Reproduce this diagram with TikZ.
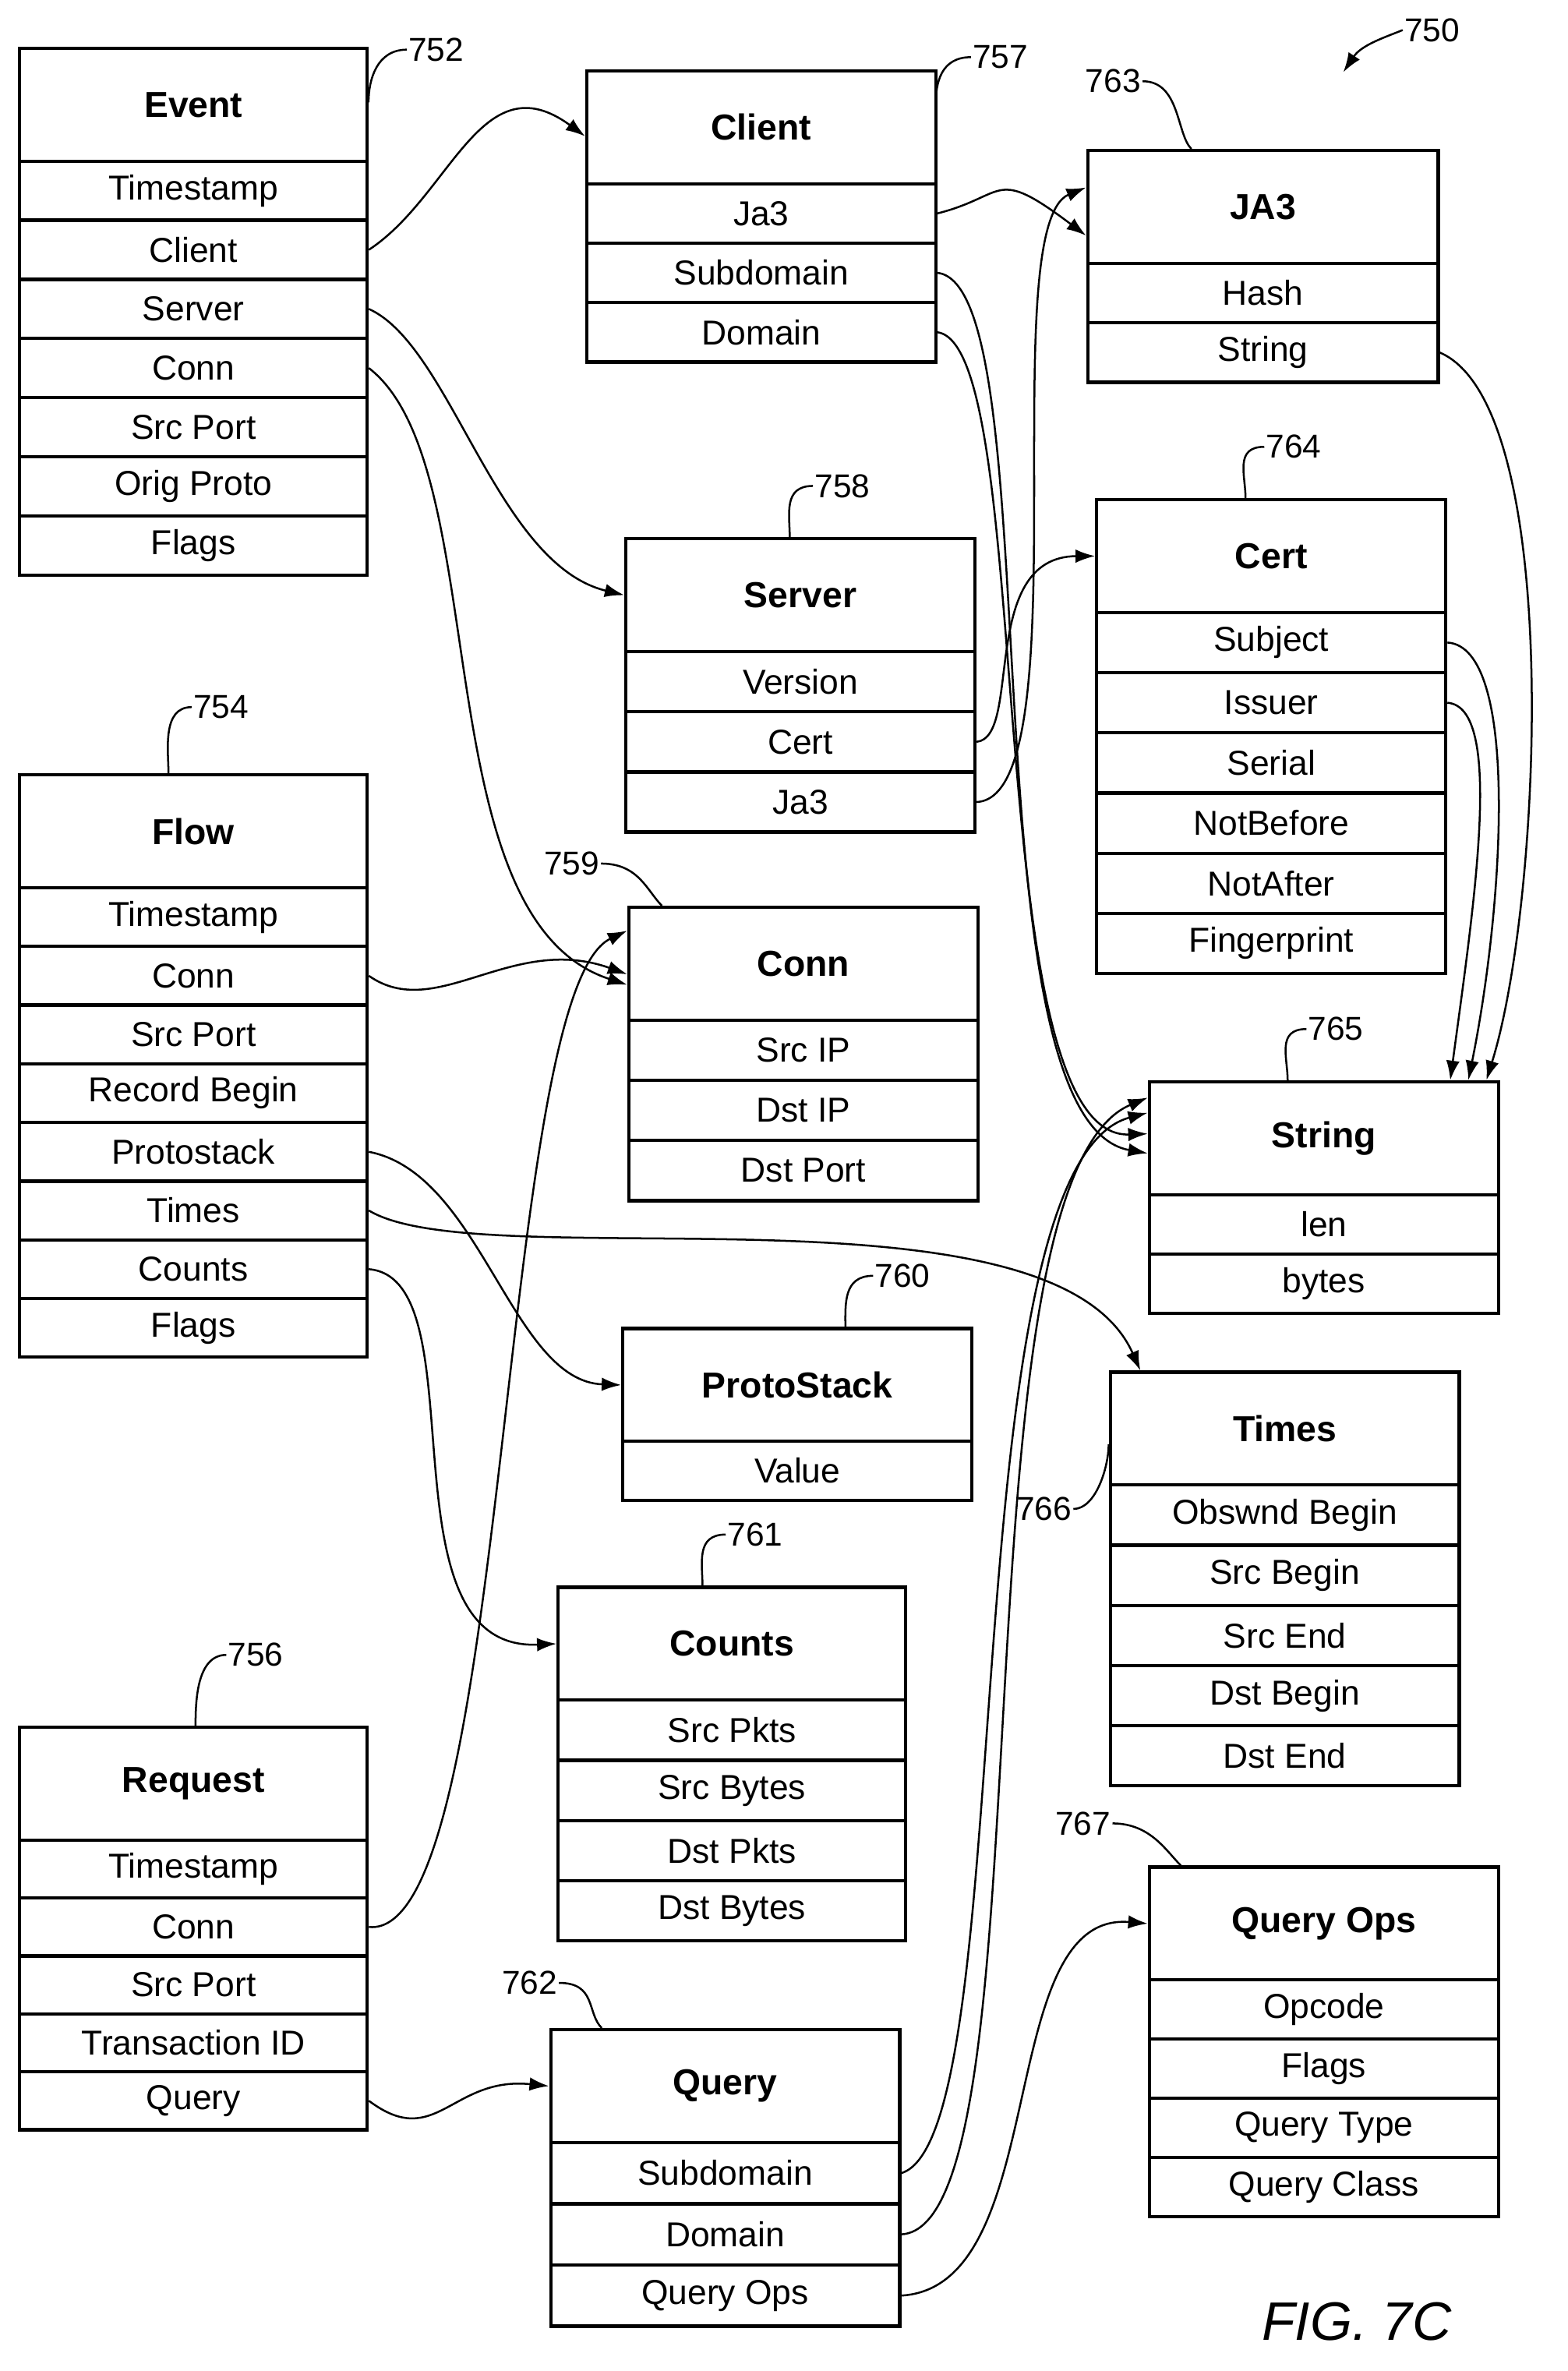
\documentclass[tikz,border=0pt]{standalone}
\usepackage{fontspec}
\setmainfont{Liberation Sans}
\usetikzlibrary{arrows.meta}
\begin{document}
\begin{tikzpicture}[x=1pt,y=-1pt,
  box/.style={draw,line width=2.2pt,inner sep=0pt,anchor=north west},
  hdr/.style={box,font=\fontsize{24}{28}\selectfont\bfseries},
  row/.style={box,font=\fontsize{23}{27}\selectfont},
  lnk/.style={line width=1.3pt,-{Latex[length=13pt,width=9pt]}},
  lead/.style={line width=1.3pt},
  lab/.style={font=\fontsize{22}{26}\selectfont,inner sep=1pt}]
\useasboundingbox (0,0) rectangle (1042,1576);
\newcommand\tbl[7]{%
 \node[hdr,minimum width=#3pt,minimum height=75pt] (#1) at (#2,#4) {#6};
 \foreach \t [count=\i] in {#7} {
  \node[row,minimum width=#3pt,minimum height=#5pt] (#1-\i) at (#2,{#4+75+(\i-1)*#5}) {\t};}}
\tbl{ev}{12}{231}{31}{39.3}{Event}{Timestamp,Client,Server,Conn,Src Port,Orig Proto,Flags}
\tbl{cl}{389}{232}{46}{39.5}{Client}{Ja3,Subdomain,Domain}
\tbl{ja}{722}{233}{99}{39.5}{JA3}{Hash,String}
\tbl{sv}{415}{232}{357}{40}{Server}{Version,Cert,Ja3}
\tbl{ce}{728}{232}{331}{40}{Cert}{Subject,Issuer,Serial,NotBefore,NotAfter,Fingerprint}
\tbl{fl}{12}{231}{514}{39}{Flow}{Timestamp,Conn,Src Port,Record Begin,Protostack,Times,Counts,Flags}
\tbl{co}{417}{232}{602}{40}{Conn}{Src IP,Dst IP,Dst Port}
\tbl{st}{763}{232}{718}{39.5}{String}{len,bytes}
\tbl{ps}{413}{232}{882}{39}{ProtoStack}{Value}
\tbl{ti}{737}{232}{911}{40}{Times}{Obswnd Begin,Src Begin,Src End,Dst Begin,Dst End}
\tbl{cn}{370}{231}{1054}{40}{Counts}{Src Pkts,Src Bytes,Dst Pkts,Dst Bytes}
\tbl{rq}{12}{231}{1147}{38.5}{Request}{Timestamp,Conn,Src Port,Transaction ID,Query}
\tbl{qu}{365}{232}{1348}{40.7}{Query}{Subdomain,Domain,Query Ops}
\tbl{qo}{763}{232}{1240}{39.3}{Query Ops}{Opcode,Flags,Query Type,Query Class}
% connectors
\draw[lnk] (ev-2.east) .. controls (300,130) and (320,40) .. ([yshift=-6pt]cl.west);
\draw[lnk] (ev-3.east) .. controls (300,230) and (330,375) .. (sv.west);
\draw[lnk] (ev-4.east) .. controls (330,310) and (280,610) .. ([yshift=-14pt]co.west);
\draw[lnk] (cl-1.east) .. controls (670,130) and (660,110) .. ([yshift=-19pt]ja.west);
\draw[lnk] (cl-2.east) .. controls (700,190) and (640,745) .. ([yshift=-10pt]st.west);
\draw[lnk] (cl-3.east) .. controls (690,230) and (650,758) .. ([yshift=3pt]st.west);
\draw[lnk] (sv-2.east) .. controls (680,490) and (650,370) .. (ce.west);
\draw[lnk] (sv-3.east) .. controls (720,530) and (660,150) .. ([yshift=13pt]ja.west);
\draw[lnk] (ja-2.east) .. controls (1040,270) and (1025,600) .. ([xshift=108pt]st.north);
\draw[lnk] (ce-1.east) .. controls (1010,430) and (1000,600) .. ([xshift=96pt]st.north);
\draw[lnk] (ce-2.east) .. controls (1000,470) and (980,600) .. ([xshift=84pt]st.north);
\draw[lnk] (fl-2.east) .. controls (290,680) and (340,620) .. ([yshift=-7pt]co.west);
\draw[lnk] (fl-5.east) .. controls (320,780) and (340,918) .. (ps.west);
\draw[lnk] (fl-6.east) .. controls (320,850) and (700,780) .. ([xshift=-96pt]ti.north);
\draw[lnk] (fl-7.east) .. controls (320,850) and (250,1098) .. (cn.west);
\draw[lnk] (rq-2.east) .. controls (340,1290) and (330,660) .. ([yshift=22pt]co.west);
\draw[lnk] (rq-5.east) .. controls (290,1430) and (300,1380) .. (qu.west);
\draw[lnk] (qu-1.east) .. controls (680,1420) and (630,775) .. ([yshift=17pt]st.west);
\draw[lnk] (qu-2.east) .. controls (700,1480) and (630,785) .. ([yshift=27pt]st.west);
\draw[lnk] (qu-3.east) .. controls (700,1520) and (660,1270) .. (qo.west);
% reference labels
\node[lab] (n750) at (952,20) {750};
\coordinate (a750) at (893,48);
\draw[lnk] (n750.west) .. controls (920,25) and (905,30) .. (a750);
\newcommand\refl[5]{\node[lab] (n#1) at (#2,#3) {#1};
 \draw[lead] (n#1.west) .. controls +(-20,0) and +(0,-15) .. (#4,#5);}
\refl{752}{290}{33}{245}{68}
\refl{757}{665}{38}{622}{70}
\refl{758}{560}{323}{525}{357}
\refl{764}{860}{297}{828}{331}
\refl{754}{147}{470}{112}{514}
\refl{765}{888}{684}{856}{718}
\refl{760}{600}{848}{562}{882}
\refl{761}{502}{1020}{467}{1054}
\refl{756}{170}{1100}{130}{1147}
\node[lab] (n763) at (740,54) {763};
\draw[lead] (n763.east) .. controls +(25,0) and +(-10,-10) .. (792,99);
\node[lab] (n759) at (380,574) {759};
\draw[lead] (n759.east) .. controls +(25,0) and +(-10,-10) .. (440,602);
\node[lab] (n762) at (352,1318) {762};
\draw[lead] (n762.east) .. controls +(25,0) and +(-10,-10) .. (400,1348);
\node[lab] (n767) at (720,1212) {767};
\draw[lead] (n767.east) .. controls +(25,0) and +(-10,-10) .. (785,1240);
\node[lab] (n766) at (694,1003) {766};
\draw[lead] (n766.east) .. controls +(15,0) and +(0,15) .. (737,960);
\node[font=\fontsize{36}{40}\selectfont\itshape] (fig) at (902,1543) {FIG. 7C};
\end{tikzpicture}
\end{document}
